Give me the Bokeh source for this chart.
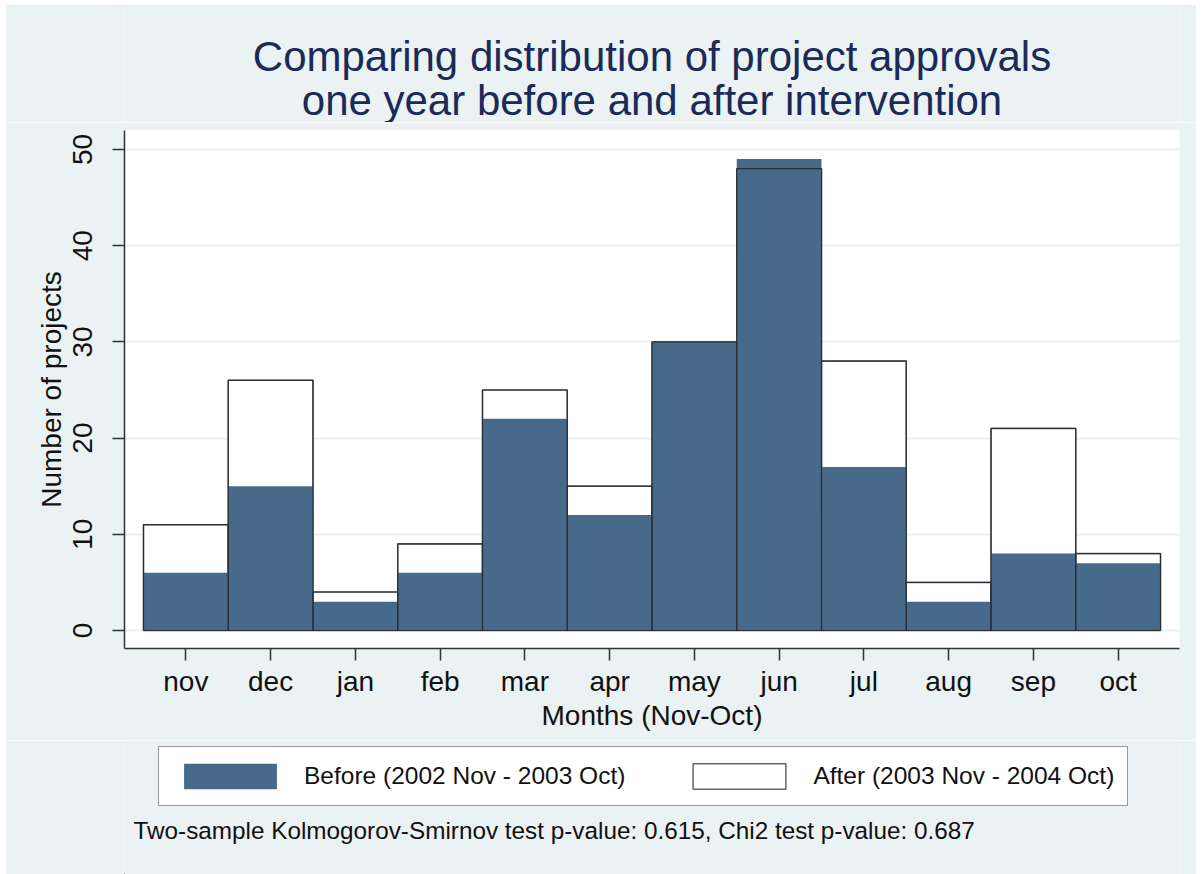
from bokeh.plotting import figure
from bokeh.layouts import column
from bokeh.models import Range1d, FixedTicker, Legend, LegendItem, Label, ColumnDataSource
from bokeh.embed import file_html
from bokeh.resources import INLINE

# ---- data ----
months = ["nov", "dec", "jan", "feb", "mar", "apr", "may", "jun", "jul", "aug", "sep", "oct"]
before = [6, 15, 3, 6, 22, 12, 30, 49, 17, 3, 8, 7]
after = [11, 26, 4, 9, 25, 15, 30, 48, 28, 5, 21, 8]
y_ticks = [0, 10, 20, 30, 40, 50]
title_lines = ["Comparing distribution of project approvals",
               "one year before and after intervention"]
legend_labels = ["Before (2002 Nov - 2003 Oct)", "After (2003 Nov - 2004 Oct)"]
note = "Two-sample Kolmogorov-Smirnov test p-value: 0.615, Chi2 test p-value: 0.687"

pos = list(range(1, len(months) + 1))
src = ColumnDataSource(dict(x=pos, before=before, after=after, month=months))

BG = "#EAF2F3"
BLUE = "#486A8A"
FONT = "Liberation Sans"
TITLE_COL = "#1B2A57"
BL, BR = 119, 17          # left / right borders shared by all strips
FRAME_W = 1191 - BL - BR


def strip(height, margin):
    f = figure(width=1191, height=height, output_backend="svg", toolbar_location=None,
               x_axis_type=None, y_axis_type=None,
               x_range=Range1d(100, 101), y_range=Range1d(1000, 1001),
               min_border_left=BL, min_border_right=BR, min_border_top=0, min_border_bottom=0,
               background_fill_color=BG, border_fill_color=BG, outline_line_color=None,
               margin=margin)
    f.title.visible = False
    f.grid.visible = False
    return f


# ---------------- title strip ----------------
t = strip(118, (4, 0, 0, 5))
for text, y in zip(title_lines, [66, 22]):
    t.add_layout(Label(x=FRAME_W / 2, y=y, x_units="screen", y_units="screen", text=text,
                       text_align="center", text_baseline="middle",
                       text_font=FONT, text_font_size="42px", text_color=TITLE_COL))

# ---------------- main chart ----------------
p = figure(width=1191, height=618, output_backend="svg", toolbar_location=None,
           x_range=Range1d(0.276, 12.724), y_range=Range1d(-1.87, 51.97),
           min_border_left=BL, min_border_right=BR, min_border_top=8, min_border_bottom=92,
           background_fill_color="white", border_fill_color=BG, outline_line_color=None,
           margin=(0, 0, 0, 5))
p.title.visible = False

after_style = dict(fill_color="white", line_color="#666666", line_width=1.5)
before_style = dict(fill_color=BLUE, line_color=None)

p.vbar(x="x", top="after", bottom=0, width=1, source=src, **after_style)
p.vbar(x="x", top="before", bottom=0, width=1, source=src, **before_style)
p.vbar(x="x", top="after", bottom=0, width=1, source=src,
       fill_color=None, line_color="#2a2f36", line_width=1.2)

for ax in (p.xaxis[0], p.yaxis[0]):
    ax.axis_line_color = "#333333"
    ax.axis_line_width = 1.5
    ax.major_tick_line_color = "#333333"
    ax.major_tick_line_width = 1.5
    ax.major_tick_out = 12
    ax.major_tick_in = 0
    ax.minor_tick_line_color = None
    ax.major_label_text_font = FONT
    ax.major_label_text_font_size = "28px"
    ax.major_label_text_color = "#111111"
    ax.axis_label_text_font = FONT
    ax.axis_label_text_font_size = "28px"
    ax.axis_label_text_font_style = "normal"
    ax.axis_label_text_color = "#111111"

p.xaxis.ticker = FixedTicker(ticks=pos)
p.xaxis.major_label_overrides = {i: m for i, m in zip(pos, months)}
p.xaxis.axis_label = "Months (Nov-Oct)"
p.xaxis.major_label_standoff = 5
p.xaxis.axis_label_standoff = 0

p.yaxis.ticker = FixedTicker(ticks=y_ticks)
p.yaxis.major_label_orientation = "vertical"
p.yaxis.axis_label = "Number of projects"
p.yaxis.major_label_standoff = 20
p.yaxis.axis_label_standoff = 4

p.xgrid.grid_line_color = None
p.ygrid.ticker = FixedTicker(ticks=y_ticks)
p.ygrid.grid_line_color = BG
p.ygrid.grid_line_width = 2

# ---------------- legend + note strip ----------------
q = strip(134, (0, 0, 0, 5))
lb = q.vbar(x="x", top="before", bottom=0, width=1, source=src, **before_style)
la = q.vbar(x="x", top="after", bottom=0, width=1, source=src, **after_style)

legend = Legend(items=[LegendItem(label=legend_labels[0], renderers=[lb]),
                       LegendItem(label=legend_labels[1], renderers=[la])],
                orientation="horizontal", location=(34, 68),
                glyph_width=116, glyph_height=32, label_standoff=16, spacing=56,
                padding=13, margin=0,
                label_text_font=FONT, label_text_font_size="24.5px", label_text_color="#111111",
                border_line_color="#333333", border_line_width=1.5,
                background_fill_color="white", background_fill_alpha=1.0)
q.add_layout(legend, "center")

q.add_layout(Label(x=9, y=44, x_units="screen", y_units="screen", text=note,
                   text_font=FONT, text_font_size="24.3px", text_color="#111111",
                   text_baseline="alphabetic"))

layout = column(t, p, q, spacing=0)
open("out.html", "w").write(file_html(layout, INLINE))
